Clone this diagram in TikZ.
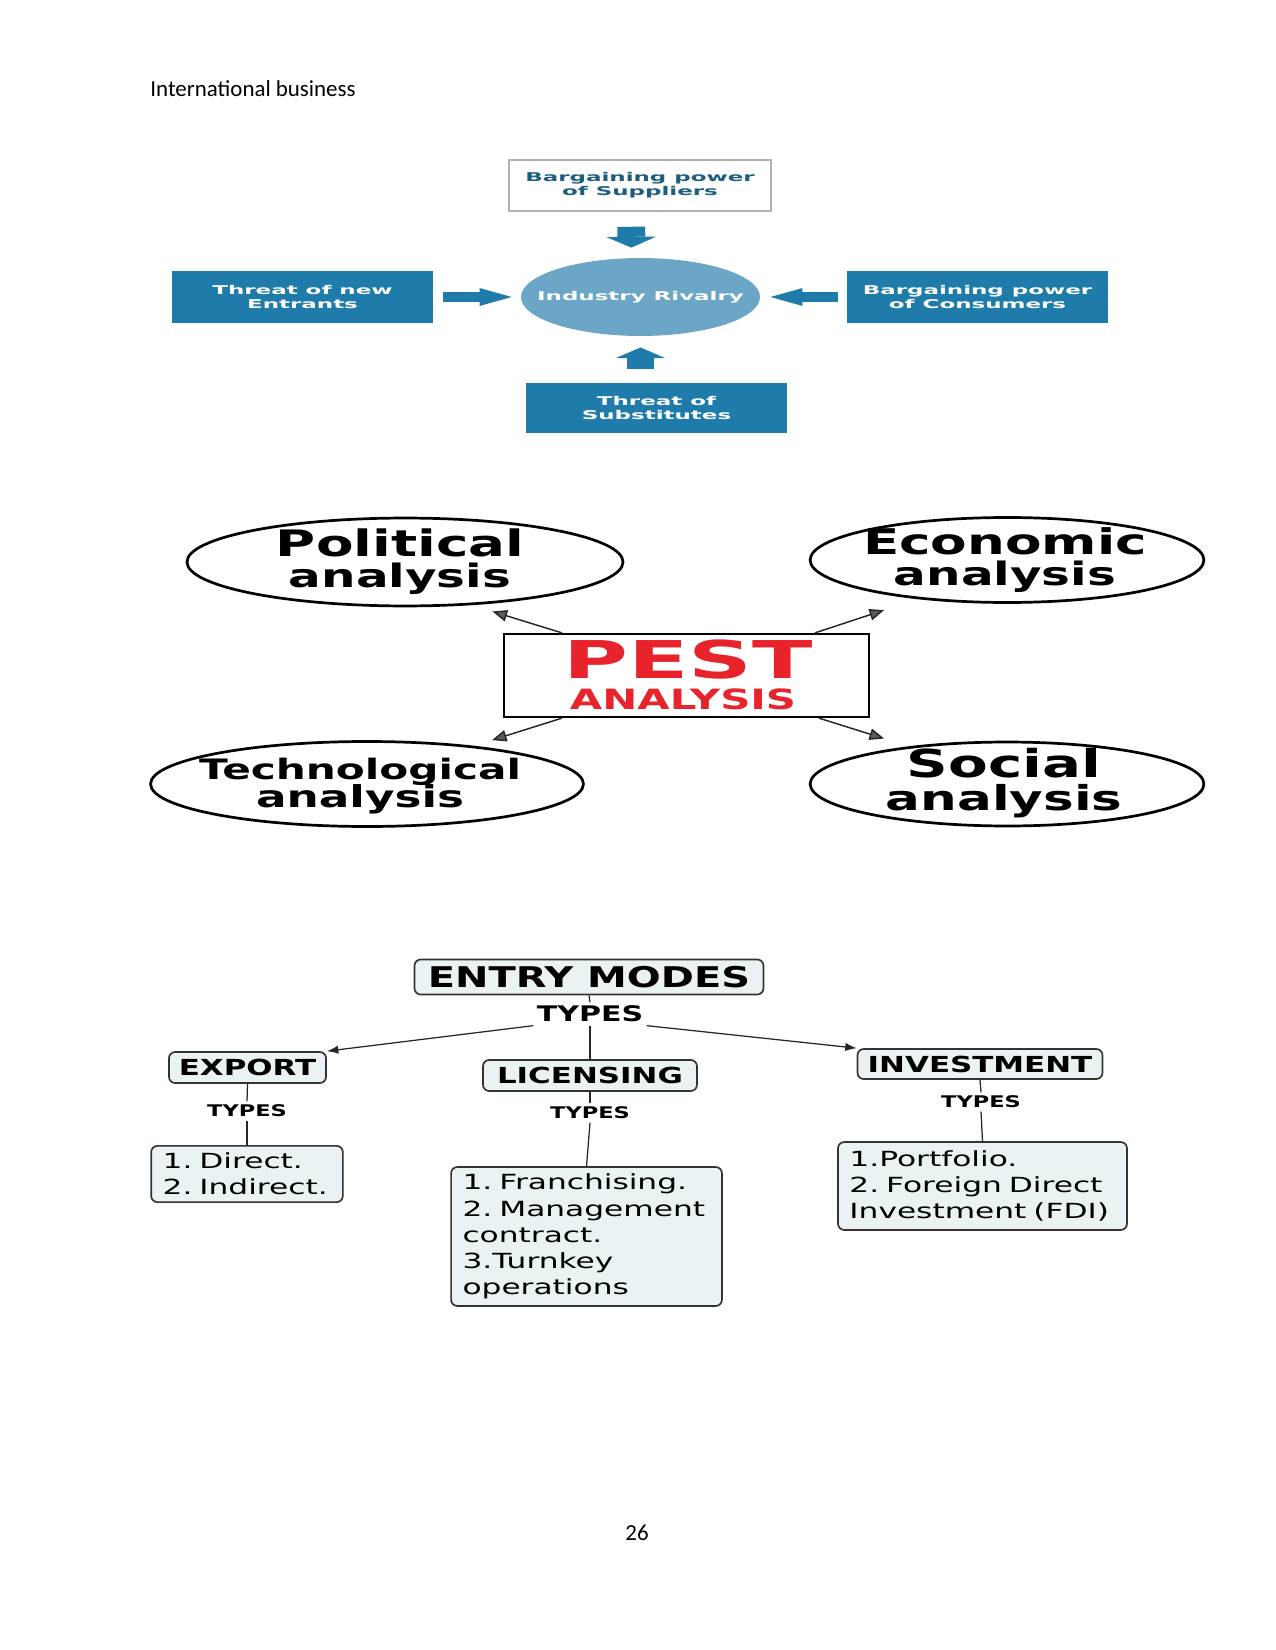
\documentclass[tikz,border=0pt]{standalone}
\usepackage{fontspec}
\setmainfont{Carlito}
\newfontfamily\porterfont[FakeStretch=1.9]{DejaVu Sans}
\newfontfamily\pestfont[FakeStretch=1.5]{DejaVu Sans}
\newfontfamily\pestwidefont[FakeStretch=1.7]{DejaVu Sans}
\newfontfamily\entryfont[FakeStretch=1.4]{DejaVu Sans}
\newfontfamily\listfont[FakeStretch=1.5]{DejaVu Sans}
\usetikzlibrary{positioning, arrows.meta, shapes.geometric}

\definecolor{porterblue}{RGB}{31,123,170}
\definecolor{porterlight}{RGB}{108,166,198}
\definecolor{porterdark}{RGB}{27,94,126}
\definecolor{pestred}{RGB}{232,35,43}
\definecolor{entryfill}{RGB}{234,242,244}

\begin{document}
\begin{tikzpicture}[
x=0.48pt, y=-0.48pt,
porterbox/.style={rectangle, fill=porterblue, inner sep=0pt, minimum width=125pt, minimum height=24.5pt, align=center, text=white, font=\porterfont\bfseries\fontsize{5.8}{6.6}\selectfont},
suppbox/.style={porterbox, fill=white, draw=gray!60, line width=0.7pt, text=porterdark},
rivalell/.style={ellipse, fill=porterlight, inner sep=0pt, minimum width=114.7pt, minimum height=37.4pt},
blockarrowh/.style={draw=porterblue, line width=5.1pt, -{Triangle[length=15.4pt, width=8.6pt, line width=0pt]}},
blockarrowv/.style={draw=porterblue, line width=13.4pt, -{Triangle[length=5.2pt, width=24pt, line width=0pt]}},
pestell/.style={ellipse, draw, line width=1.3pt, inner sep=0pt},
pesttxt/.style={align=center, inner sep=0pt, font={\pestfont\bfseries\fontsize{18}{#1}\selectfont\lineskiplimit=-40pt}},
pestarrow/.style={-{Triangle[length=7pt, width=5.5pt, fill=black!65]}, line width=0.7pt, black!85},
entrybox/.style={rectangle, rounded corners=3pt, draw=black!80, line width=0.8pt, fill=entryfill, inner sep=0pt, font=\entryfont\bfseries\fontsize{10.6}{12}\selectfont},
entrylist/.style={entrybox, align=left, inner xsep=5.5pt, font=\listfont\fontsize{10}{12.6}\selectfont},
typeslbl/.style={inner sep=1.5pt, font=\entryfont\bfseries\fontsize{7.7}{9}\selectfont},
entryline/.style={line width=0.6pt, black!85},
entryarrow/.style={entryline, -{Latex[length=5.5pt, width=4pt]}}
]
\useasboundingbox (0,0) rectangle (1275,1650);

\node[anchor=base west, inner sep=0pt, font=\fontsize{11}{13}\selectfont] (page_head) at (150,97) {International business};

\node[suppbox, minimum width=125.8pt] (porter_supp) at (640,185.5) {Bargaining power\\of Suppliers};
\node[porterbox, minimum height=25pt] (porter_ent) at (302.5,297) {Threat of new\\Entrants};
\node[porterbox, minimum height=25pt] (porter_con) at (977.5,297) {Bargaining power\\of Consumers};
\node[porterbox, minimum height=24pt] (porter_sub) at (656.5,408) {Threat of\\Substitutes};
\node[rivalell] (porter_riv) at (640.5,297) {};
\node[font=\porterfont\bfseries\fontsize{5.8}{6.6}\selectfont, text=white] (porter_riv_txt) at (porter_riv) {Industry Rivalry};

\draw[blockarrowv, shorten <=7.2pt, shorten >=4.8pt] ([xshift=-4.3pt]porter_supp.south) -- ([xshift=-4.3pt]porter_riv.north);
\draw[blockarrowv, shorten <=6.7pt, shorten >=5.3pt] (porter_riv.south |- porter_sub.north) -- (porter_riv.south);
\draw[blockarrowh, shorten <=4.8pt, shorten >=4.3pt] (porter_ent.east) -- (porter_riv.west);
\draw[blockarrowh, shorten <=4.3pt, shorten >=4.8pt] (porter_con.west) -- (porter_riv.east);

\node[pestell, minimum width=209.3pt, minimum height=42.2pt] (pest_pol) at (405,562) {};
\node[pestell, minimum width=189pt, minimum height=40.8pt] (pest_eco) at (1007,560) {};
\node[pestell, minimum width=207.8pt, minimum height=40.8pt] (pest_tech) at (367,784) {};
\node[pestell, minimum width=189pt, minimum height=40.3pt] (pest_soc) at (1007,784) {};
\node[pesttxt=15pt] (pest_pol_txt) at (400,562) {{\fontsize{17.5}{18}\selectfont Political}\\{\fontsize{15.5}{16}\selectfont analysis}};
\node[pesttxt=14.5pt] (pest_eco_txt) at (1005,560) {{\fontsize{17}{18}\selectfont Economic}\\{\fontsize{15.5}{16}\selectfont analysis}};
\node[pesttxt=13.5pt] (pest_tech_txt) at (360,786) {{\fontsize{13.5}{14}\selectfont Technological}\\{\fontsize{14.5}{15}\selectfont analysis}};
\node[pesttxt=16pt] (pest_soc_txt) at (1004,783) {{\fontsize{18.5}{19}\selectfont Social}\\{\fontsize{16.5}{17}\selectfont analysis}};

\node[draw, line width=1.1pt, inner sep=0pt, minimum width=175pt, minimum height=39.8pt] (pest_box) at (686.5,675.5) {};
\node[anchor=base, inner sep=0pt, text=pestred, font=\pestwidefont\bfseries\fontsize{25}{27}\selectfont] (pest_title) at (688,678) {PEST};
\node[anchor=base, inner sep=0pt, text=pestred, font=\pestfont\bfseries\fontsize{13.4}{14}\selectfont] (pest_sub) at (683,709) {ANALYSIS};

\draw[pestarrow] ([xshift=28.3pt]pest_box.north west) -- ([xshift=42pt, yshift=-2pt]pest_pol.south);
\draw[pestarrow] ([xshift=-26.4pt]pest_box.north east) -- ([xshift=-59pt, yshift=-3pt]pest_eco.south);
\draw[pestarrow] ([xshift=28.3pt]pest_box.south west) -- ([xshift=60pt]pest_tech.north);
\draw[pestarrow] ([xshift=-24.5pt]pest_box.south east) -- ([xshift=-59pt, yshift=1pt]pest_soc.north);

\node[entrybox, minimum width=167.5pt, minimum height=16.8pt, font=\entryfont\bfseries\fontsize{13.7}{15}\selectfont] (entry_main) at (589,977) {ENTRY MODES};
\node[typeslbl, font=\entryfont\bfseries\fontsize{10.3}{12}\selectfont] (entry_types) at (590,1014) {TYPES};
\node[entrybox, minimum width=75.4pt, minimum height=14.9pt] (entry_exp) at (247.5,1067.5) {EXPORT};
\node[entrybox, minimum width=102.7pt, minimum height=14.9pt] (entry_lic) at (590,1075.5) {LICENSING};
\node[entrybox, minimum width=117.6pt, minimum height=14.4pt] (entry_inv) at (980,1064) {INVESTMENT};

\node[typeslbl] (exp_types) at (247,1111) {TYPES};
\node[typeslbl] (lic_types) at (590,1113) {TYPES};
\node[typeslbl] (inv_types) at (981,1102) {TYPES};

\node[entrylist, text width=81pt, minimum height=27pt] (exp_list) at (247,1174) {1.~Direct.\\2.~Indirect.};
\node[entrylist, text width=119pt, minimum height=66.7pt] (lic_list) at (586.5,1236.5) {1.~Franchising.\\2.~Management\\contract.\\3.Turnkey\\operations};
\node[entrylist, text width=127.7pt, minimum height=42.2pt] (inv_list) at (982.5,1186) {1.Portfolio.\\2.~Foreign~Direct\\Investment~(FDI)};

\draw[entryline] (entry_main.south) -- (entry_types.north);
\draw[entryline] (entry_types.south) -- (entry_lic.north);
\draw[entryarrow] (entry_types.south west) -- (entry_exp.north east);
\draw[entryarrow] (entry_types.south east) -- (entry_inv.north west);
\draw[entryline] (entry_exp.south) -- (exp_types.north);
\draw[entryline] (exp_types.south) -- (exp_list.north);
\draw[entryline] (entry_lic.south) -- (lic_types.north);
\draw[entryline] (lic_types.south) -- (lic_list.north);
\draw[entryline] (entry_inv.south) -- (inv_types.north);
\draw[entryline] (inv_types.south) -- (inv_list.north);

\node[anchor=base, font=\fontsize{11}{13}\selectfont] (page_num) at (637,1540) {26};
\end{tikzpicture}
\end{document}
